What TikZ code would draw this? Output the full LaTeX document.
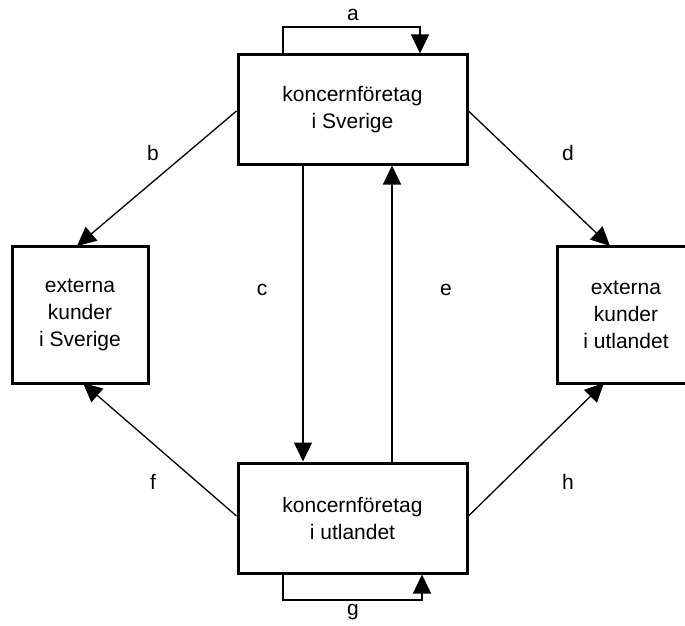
\documentclass[tikz,border=0pt]{standalone}
\usepackage{fontspec}
\setmainfont{Liberation Sans}
\usetikzlibrary{arrows.meta,calc}
\begin{document}
\begin{tikzpicture}[x=1pt,y=-1pt,
  box/.style={draw,line width=3pt,align=center,inner sep=0pt,
    font=\fontsize{21}{27}\selectfont},
  flow/.style={line width=1.3pt,-{Triangle[length=19pt,width=18pt]}},
  lbl/.style={font=\fontsize{21}{27}\selectfont,inner sep=0pt}]
\useasboundingbox (0,0) rectangle (685,626);
\node[box,minimum width=229pt,minimum height=109pt] (tb) at (352.5,109.5) {koncernföretag\\i Sverige};
\node[box,minimum width=229pt,minimum height=110pt] (bb) at (352.5,518) {koncernföretag\\i utlandet};
\node[box,minimum width=136pt,minimum height=137pt] (lk) at (80,314.5) {externa\\kunder\\i Sverige};
\node[box,minimum width=138pt,minimum height=137pt] (rk) at (626,314.5) {externa\\kunder\\i utlandet};
% self loops
\coordinate (a1) at (283,27);
\coordinate (a2) at (420,27);
\draw[flow] (tb.north -| a1) -- (a1) -- (a2) -- (tb.north -| a2);
\coordinate (g1) at (283,600);
\coordinate (g2) at (422,600);
\draw[flow] (bb.south -| g1) -- (g1) -- (g2) -- (bb.south -| g2);
% vertical
\coordinate (cx) at (303,0);
\coordinate (ex) at (392,0);
\draw[flow] (tb.south -| cx) -- (bb.north -| cx);
\draw[flow] (bb.north -| ex) -- (tb.south -| ex);
% diagonals
\coordinate (btip) at (77,246);
\coordinate (dtip) at (610,246);
\coordinate (ftip) at (83,383);
\coordinate (htip) at (604,383);
\draw[flow] ([yshift=-1.5pt]tb.west) -- (btip);
\draw[flow] ([yshift=-1.5pt]tb.east) -- (dtip);
\draw[flow] ([yshift=2pt]bb.west) -- (ftip);
\draw[flow] ([yshift=2pt]bb.east) -- (htip);
% labels
\node[lbl] (la) at (353,15) {a};
\node[lbl] (lg) at (353,612) {g};
\node[lbl] (lb) at (153,153) {b};
\node[lbl] (ld) at (568,153) {d};
\node[lbl] (lc) at (262,290) {c};
\node[lbl] (le) at (446,290) {e};
\node[lbl] (lf) at (153,482) {f};
\node[lbl] (lh) at (568,482) {h};
\end{tikzpicture}
\end{document}
